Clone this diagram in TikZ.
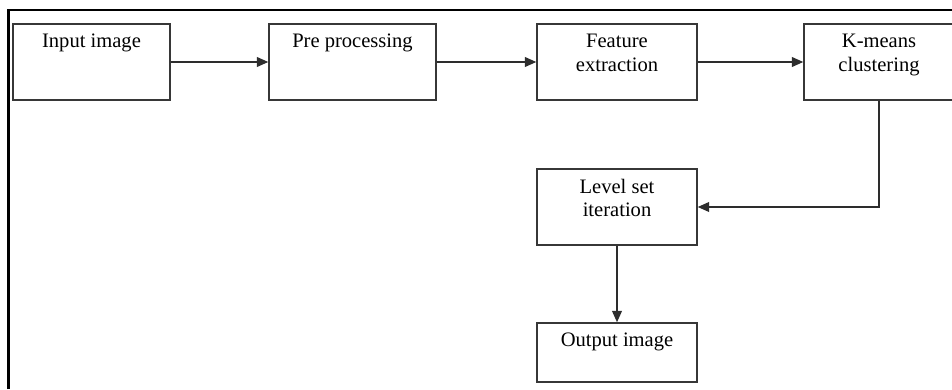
\documentclass[tikz,border=0pt]{standalone}
\usepackage{fontspec}
\setmainfont{Liberation Serif}
\usepackage{tikz}
\usetikzlibrary{arrows.meta,positioning,calc}
\definecolor{boxline}{RGB}{55,55,55}
\definecolor{flowline}{RGB}{45,45,45}
\newcommand{\stage}[5]{\node[stagebox,minimum width=#3*0.02cm,minimum height=#4*0.02cm] (#1) at (#2) {};
  \node[stagetext] (#1-txt) at (#1.north) {#5};}

\begin{document}
\begin{tikzpicture}[x=0.02cm,y=0.02cm,
  stagebox/.style={draw=boxline,line width=0.85pt,inner sep=0pt},
  stagetext/.style={anchor=north,align=center,inner sep=0pt,yshift=-6pt,font=\fontsize{11.7}{13.4}\selectfont},
  flow/.style={draw=flowline,line width=0.8pt,-{Triangle[length=6.5pt,width=5.6pt]}}]
\useasboundingbox (0,0) rectangle (952,389);
% outer frame
\draw[line width=1.2pt] (8.5,0) -- (8.5,379) -- (960,379);
% stages
\stage{inp}{91.5,327}{157}{76}{Input image}
\stage{pre}{352.5,327}{167}{76}{Pre processing}
\stage{feat}{617,327}{160}{76}{Feature\\extraction}
\stage{kmeans}{879,327}{150}{76}{K-means\\clustering}
\stage{level}{617,182}{160}{76}{Level set\\iteration}
\stage{out}{617,36.5}{160}{59}{Output image}
% connectors
\draw[flow] (inp.east) -- (pre.west);
\draw[flow] (pre.east) -- (feat.west);
\draw[flow] (feat.east) -- (kmeans.west);
\draw[flow] (kmeans.south) |- (level.east);
\draw[flow] (level.south) -- (out.north);
\end{tikzpicture}
\end{document}
